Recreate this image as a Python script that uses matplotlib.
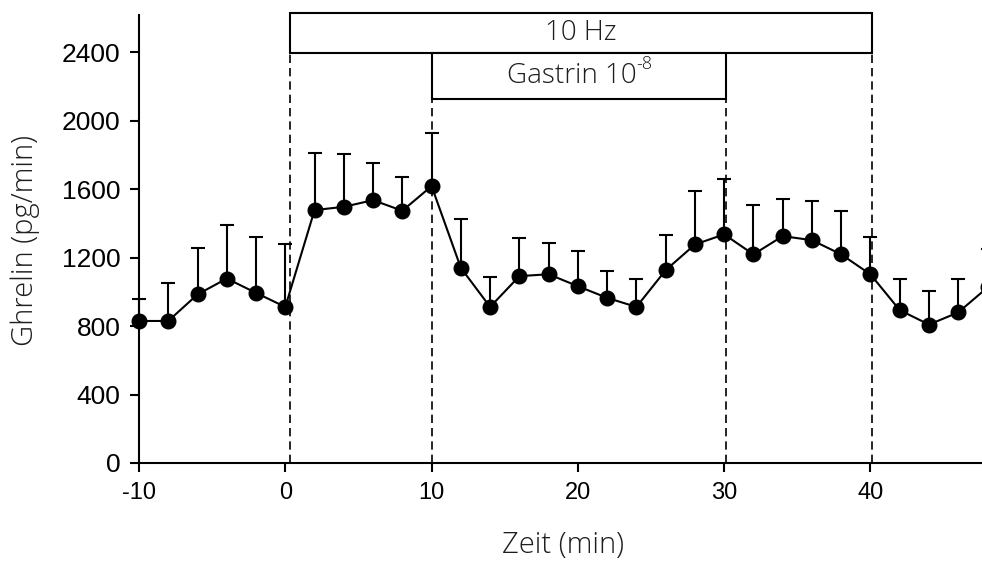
import matplotlib
matplotlib.use("Agg")
import matplotlib.pyplot as plt
from matplotlib.patches import Rectangle

# ------------------------------
# DATA
# ------------------------------
time_min = [-10, -8, -6, -4, -2, 0, 2, 4, 6, 8, 10, 12, 14, 16, 18, 20,
            22, 24, 26, 28, 30, 32, 34, 36, 38, 40, 42, 44, 46, 48]
ghrelin = [830, 830, 985, 1078, 994, 912, 1478, 1497, 1536, 1474, 1618,
           1140, 912, 1092, 1103, 1033, 965, 912, 1127, 1277, 1336, 1219,
           1326, 1302, 1219, 1102, 893, 809, 880, 1026]
err_top = [956, 1050, 1254, 1390, 1322, 1277, 1813, 1803, 1754, 1673, 1930,
           1425, 1088, 1312, 1287, 1240, 1123, 1073, 1332, 1589, 1659, 1507,
           1541, 1529, 1474, 1322, 1078, 1004, 1078, 1250]
err_up = [t - v for t, v in zip(err_top, ghrelin)]

event_lines = [0.3, 10.05, 30.1, 40.1]
y_ticks = [0, 400, 800, 1200, 1600, 2000, 2400]
x_ticks = [-10, 0, 10, 20, 30, 40]

# stimulation bars: (start, end, bottom, top, label, superscript)
bars = [
    (0.3, 40.1, 2394, 2628, "10 Hz", ""),
    (10.05, 30.1, 2125, 2394, "Gastrin 10", "-8"),
]

plt.rcParams["axes.unicode_minus"] = False
LABEL_FONT = "Open Sans"
LABEL_WEIGHT = "light"
LABEL_COLOR = "#1e1e1e"

# ------------------------------
# PLOT
# ------------------------------
fig = plt.figure(figsize=(9.82, 5.61), dpi=100)
ax = fig.add_axes([139 / 982, 98 / 561, 877.8 / 982, 448 / 561])

for xv in event_lines:
    ax.plot([xv, xv], [0, 2400], color="black", lw=1.2, ls=(0, (5, 3)), zorder=1)

ax.errorbar(time_min, ghrelin, yerr=[[0] * len(err_up), err_up],
            fmt="none", ecolor="black", elinewidth=1.5, capsize=4.8,
            capthick=1.5, zorder=2, clip_on=False)
ax.plot(time_min, ghrelin, color="black", lw=1.5, marker="o",
        markersize=10.5, zorder=3, clip_on=False)

for x0, x1, y0, y1, label, sup in bars:
    ax.add_patch(Rectangle((x0, y0), x1 - x0, y1 - y0, facecolor="white",
                           edgecolor="black", lw=1.5, zorder=4, clip_on=False))
    xc = (x0 + x1) / 2 - (0.5 if sup else 0)
    t = ax.text(xc, (y0 + y1) / 2, label, ha="center", va="center",
                fontsize=20, family=LABEL_FONT, weight=LABEL_WEIGHT,
                color=LABEL_COLOR, zorder=5)
    if sup:
        ax.annotate(sup, xy=(1, 0.95), xycoords=t, ha="left", va="center",
                    fontsize=13, family=LABEL_FONT, weight=LABEL_WEIGHT,
                    color=LABEL_COLOR, zorder=5)

ax.set_xlim(-10, 50)
ax.set_ylim(0, 2618)
ax.set_xticks(x_ticks)
ax.set_yticks(y_ticks)
ax.spines["top"].set_visible(False)
ax.spines["right"].set_visible(False)
for s in ("left", "bottom"):
    ax.spines[s].set_linewidth(1.5)
ax.tick_params(direction="out", length=6.5, width=1.5, pad=7)
ax.tick_params(axis="x", labelsize=17)
ax.tick_params(axis="y", labelsize=19)
for lab in ax.get_xticklabels() + ax.get_yticklabels():
    lab.set_family("Liberation Sans")

fig.text(563 / 982, 1 - 545 / 561, "Zeit (min)", ha="center", va="center",
         fontsize=21, family=LABEL_FONT, weight=LABEL_WEIGHT, color=LABEL_COLOR)
fig.text(25 / 982, 1 - 241 / 561, "Ghrelin (pg/min)", ha="center",
         va="center", rotation=90, fontsize=21, family=LABEL_FONT,
         weight=LABEL_WEIGHT, color=LABEL_COLOR)

fig.savefig("out.png", dpi=100)
